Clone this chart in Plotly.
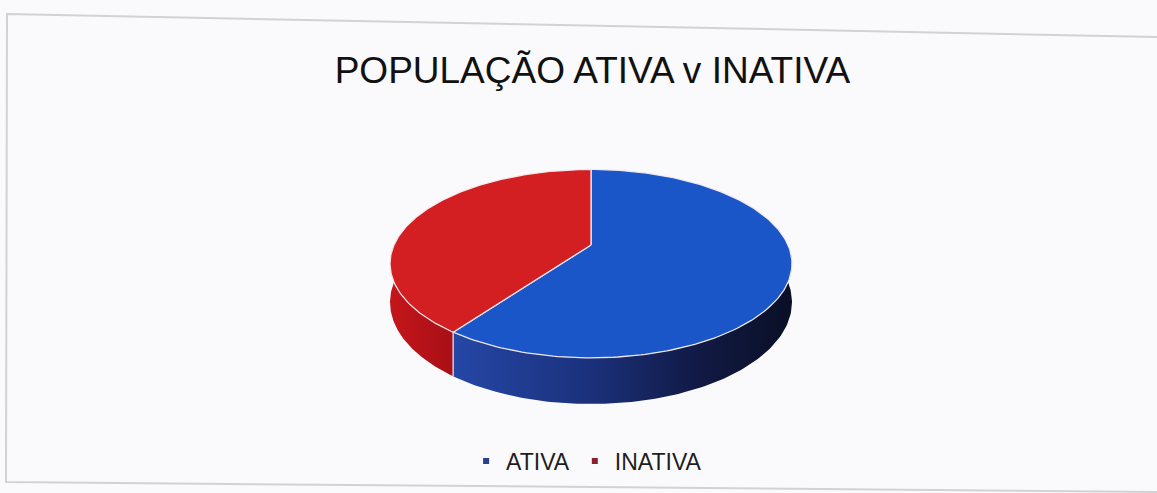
import numpy as np
import plotly.graph_objects as go

# ---- data ----
categories = ["ATIVA", "INATIVA"]
values = [60, 40]
title_text = "POPULAÇÃO ATIVA v INATIVA"

# ---- styles ----
top_colors = ["#1b56c8", "#d41f22"]
legend_colors = ["#2b3f8f", "#8e1f2c"]
side_scales = [
    [[0, "#2547a6"], [0.4, "#1b317c"], [0.72, "#111a45"], [1, "#0a0f26"]],
    [[0, "#c4161b"], [1, "#a80f16"]],
]

W, H = 1157, 493
cx, cy = 591, 245          # pie centre (pixels)
rx, ry = 197, 90.5         # projected radii
persp = 0.198              # perspective strength
depth = 37                 # thickness


def proj(theta_deg, dz=0.0):
    t = np.radians(theta_deg)
    u = np.sin(t)
    w = -np.cos(t)
    f = 1.0 / (1.0 - persp * w)
    return cx + rx * u * f, cy + (ry * w + dz) * f


total = float(sum(values))
bounds = np.concatenate([[0], np.cumsum(values) / total * 360.0])

fig = go.Figure()

# side walls (visible front half: 90..270 deg)
for i, cat in enumerate(categories):
    a, b = max(bounds[i], 90), min(bounds[i + 1], 270)
    if b <= a:
        continue
    th = np.linspace(a, b, 120)
    xt, yt = proj(th)
    xb, yb = proj(th[::-1], depth)
    fig.add_trace(go.Scatter(
        x=np.concatenate([xt, xb]), y=np.concatenate([yt, yb]),
        mode="lines", fill="toself", line=dict(width=0),
        fillgradient=dict(type="horizontal", colorscale=side_scales[i]),
        showlegend=False, hoverinfo="skip"))

# white edges on the side at slice boundaries
for ang in bounds[1:-1]:
    if 90 <= ang <= 270:
        x0, y0 = proj(ang)
        x1, y1 = proj(ang, depth)
        fig.add_trace(go.Scatter(x=[x0, x1], y=[y0, y1], mode="lines",
                                 line=dict(color="rgba(240,240,255,0.9)", width=1.3),
                                 showlegend=False, hoverinfo="skip"))

# top faces
for i, cat in enumerate(categories):
    th = np.linspace(bounds[i], bounds[i + 1], 200)
    xs, ys = proj(th)
    fig.add_trace(go.Scatter(
        x=np.concatenate([[cx], xs, [cx]]), y=np.concatenate([[cy], ys, [cy]]),
        mode="lines", fill="toself", fillcolor=top_colors[i],
        line=dict(color="rgba(245,235,240,0.95)", width=1.3),
        name=cat, showlegend=False,
        hovertemplate=f"{cat}: {values[i]}%<extra></extra>"))

# legend entries
for i, cat in enumerate(categories):
    fig.add_trace(go.Scatter(x=[None], y=[None], mode="markers", name=cat,
                             marker=dict(symbol="square", size=6, color=legend_colors[i])))

fig.update_layout(
    width=W, height=H,
    margin=dict(l=0, r=0, t=0, b=0),
    paper_bgcolor="#ffffff",
    plot_bgcolor="#fafafc",
    font=dict(family="Liberation Sans, Arial, sans-serif", color="#1a1a1a"),
    title=dict(text=title_text, x=0.512, xanchor="center", y=1 - 70 / H, yanchor="middle",
               font=dict(size=37, color="#111111")),
    xaxis=dict(range=[0, W], visible=False, fixedrange=True),
    yaxis=dict(range=[H, 0], visible=False, fixedrange=True),
    legend=dict(orientation="h", x=0.507, xanchor="center", y=1 - 461 / H, yanchor="middle",
                font=dict(size=23, color="#1e1e1e"), itemwidth=30,
                bgcolor="rgba(0,0,0,0)", traceorder="normal"),
    shapes=[
        dict(type="path", xref="x", yref="y",
             path="M 7,14 L 1160,37 L 1160,492 L 6,482 Z",
             line=dict(color="#d2d2d6", width=2), fillcolor="rgba(0,0,0,0)", layer="below"),
    ],
)

fig.write_html("out.html")
